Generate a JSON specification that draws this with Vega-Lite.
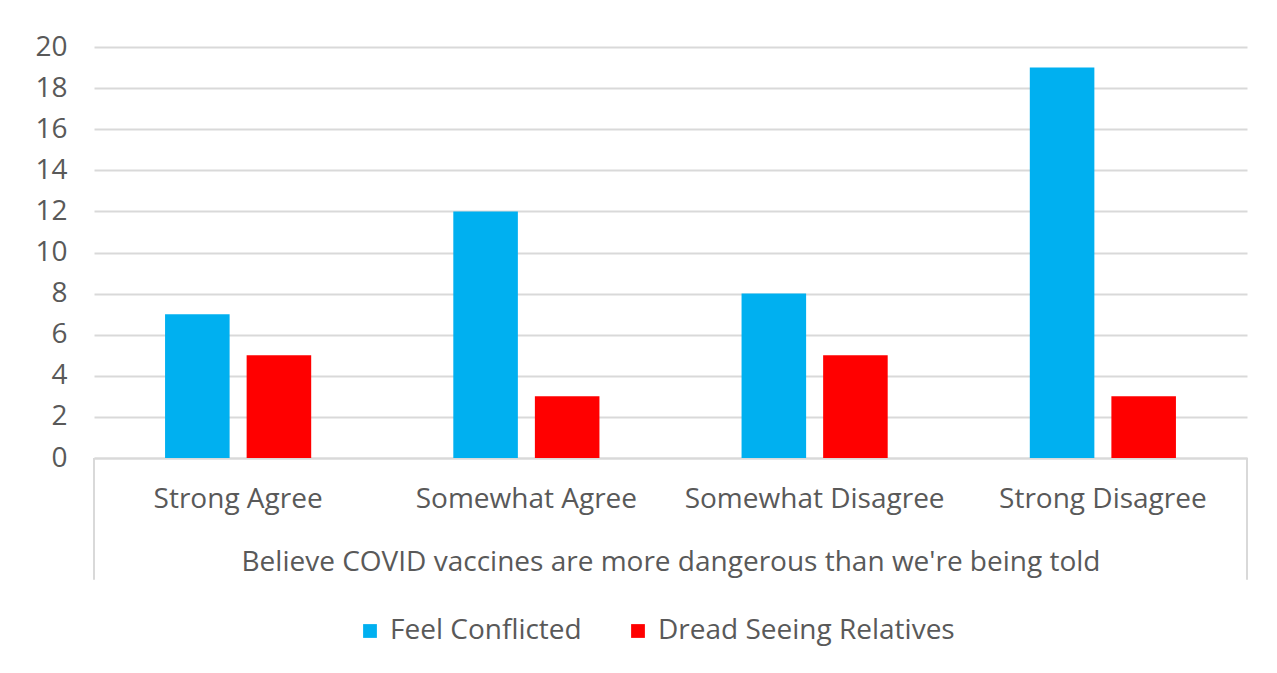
{
  "$schema": "https://vega.github.io/schema/vega-lite/v6.json",
  "autosize": "none",
  "width": 1153,
  "height": 411,
  "padding": {"left": 94, "top": 47, "right": 30, "bottom": 215},
  "background": "white",
  "config": {
    "view": {"stroke": null},
    "font": "Open Sans"
  },
  "layer": [
    {
      "data": {
        "values": [
          {"response": "Strong Agree", "series": "Feel Conflicted", "value": 7},
          {"response": "Strong Agree", "series": "Dread Seeing Relatives", "value": 5},
          {"response": "Somewhat Agree", "series": "Feel Conflicted", "value": 12},
          {"response": "Somewhat Agree", "series": "Dread Seeing Relatives", "value": 3},
          {"response": "Somewhat Disagree", "series": "Feel Conflicted", "value": 8},
          {"response": "Somewhat Disagree", "series": "Dread Seeing Relatives", "value": 5},
          {"response": "Strong Disagree", "series": "Feel Conflicted", "value": 19},
          {"response": "Strong Disagree", "series": "Dread Seeing Relatives", "value": 3}
        ]
      },
      "mark": {"type": "bar"},
      "encoding": {
        "x": {
          "field": "response",
          "type": "nominal",
          "sort": null,
          "scale": {
            "domain": ["Strong Agree", "Somewhat Agree", "Somewhat Disagree", "Strong Disagree"],
            "paddingInner": 0,
            "paddingOuter": 0
          },
          "axis": {
            "title": "Believe COVID vaccines are more dangerous than we're being told",
            "titleFont": "Open Sans",
            "titleFontSize": 28,
            "titleFontWeight": "normal",
            "titleColor": "#595959",
            "titlePadding": 35,
            "labelFont": "Open Sans",
            "labelFontSize": 28,
            "labelColor": "#595959",
            "labelAngle": 0,
            "labelLimit": 0,
            "labelPadding": 27,
            "ticks": false,
            "tickSize": 0,
            "domainColor": "#d9d9d9",
            "domainWidth": 2,
            "grid": false
          }
        },
        "xOffset": {
          "field": "series",
          "type": "nominal",
          "sort": ["Feel Conflicted", "Dread Seeing Relatives"],
          "scale": {"paddingInner": 0.2086, "paddingOuter": 0.871}
        },
        "y": {
          "field": "value",
          "type": "quantitative",
          "scale": {"domain": [0, 20], "nice": false},
          "axis": {
            "title": null,
            "values": [0, 2, 4, 6, 8, 10, 12, 14, 16, 18, 20],
            "labelFont": "Open Sans",
            "labelFontSize": 28,
            "labelColor": "#595959",
            "labelPadding": 27,
            "ticks": false,
            "tickSize": 0,
            "domain": false,
            "grid": true,
            "gridColor": "#d9d9d9",
            "gridWidth": 2
          }
        },
        "color": {
          "field": "series",
          "type": "nominal",
          "scale": {
            "domain": ["Feel Conflicted", "Dread Seeing Relatives"],
            "range": ["#00b0f0", "#ff0000"]
          },
          "legend": {
            "title": null,
            "orient": "none",
            "direction": "horizontal",
            "legendX": 262,
            "legendY": 570,
            "symbolType": "square",
            "symbolSize": 190,
            "symbolStrokeWidth": 0,
            "labelFont": "Open Sans",
            "labelFontSize": 28,
            "labelColor": "#595959",
            "labelLimit": 0,
            "labelOffset": 6,
            "columnPadding": 42
          }
        }
      }
    },
    {
      "data": {"values": [{"response": "Strong Agree"}]},
      "mark": {"type": "rule", "color": "#d9d9d9", "strokeWidth": 2},
      "encoding": {
        "x": {"field": "response", "type": "nominal", "sort": null, "bandPosition": 0},
        "y": {"datum": 0},
        "y2": {"datum": -5.93}
      }
    },
    {
      "data": {"values": [{"response": "Strong Disagree"}]},
      "mark": {"type": "rule", "color": "#d9d9d9", "strokeWidth": 2},
      "encoding": {
        "x": {"field": "response", "type": "nominal", "sort": null, "bandPosition": 1},
        "y": {"datum": 0},
        "y2": {"datum": -5.93}
      }
    }
  ]
}
